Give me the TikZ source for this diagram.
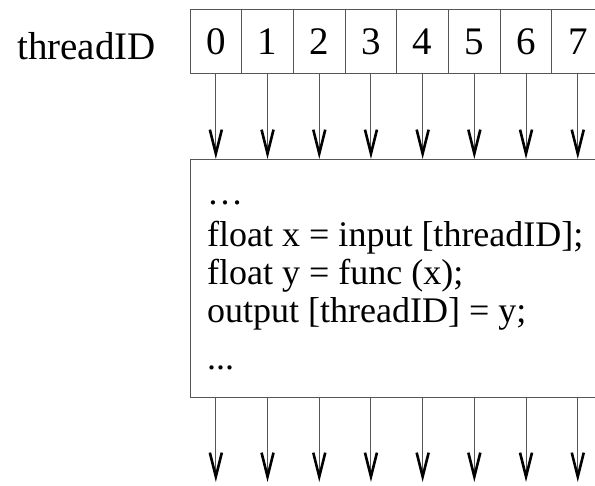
\documentclass[tikz,border=0pt]{standalone}
\usepackage{fontspec}
\setmainfont{Liberation Serif}
\usetikzlibrary{arrows.meta}
\definecolor{linegray}{RGB}{85,85,85}
\begin{document}
\begin{tikzpicture}[x=1pt,y=-1pt,
  cellbox/.style={draw=linegray, line width=1pt, minimum width=51.7pt, minimum height=64pt, inner sep=0pt,
    font=\fontsize{39}{39}\selectfont},
  mainbox/.style={draw=linegray, line width=1.2pt, anchor=north west, minimum width=420pt, minimum height=238pt, inner sep=0pt},
  codeline/.style={anchor=base west, inner sep=0pt, font=\fontsize{36}{38}\selectfont},
  flow/.style={draw=linegray, line width=1pt, -{Straight Barb[length=24pt,width=12pt,line width=2.6pt,color=black]}}
]
\useasboundingbox (0,0) rectangle (595,486);
\clip (0,0) rectangle (595,486);
\node[anchor=base west, inner sep=0pt, font=\fontsize{39}{39}\selectfont] (label) at (17,60) {threadID};
\foreach \i in {0,...,7} {
  \node[cellbox] (c\i) at ({190+51.7*\i+25.85},42) {\i};
}
\node[mainbox] (main) at (190,159) {};
\node[codeline] (l1) at (207,205) {…};
\node[codeline] (l2) at (207,247) {float x = input [threadID];};
\node[codeline] (l3) at (207,285) {float y = func (x);};
\node[codeline] (l4) at (207,323) {output [threadID] = y;};
\node[codeline] (l5) at (207,370) {...};
\foreach \i in {0,...,7} {
  \draw[flow] (c\i.south) -- (c\i.south |- main.north);
  \coordinate (e\i) at (c\i.south |- 0,482);
  \draw[flow] (c\i.south |- main.south) -- (e\i);
}
\end{tikzpicture}
\end{document}
